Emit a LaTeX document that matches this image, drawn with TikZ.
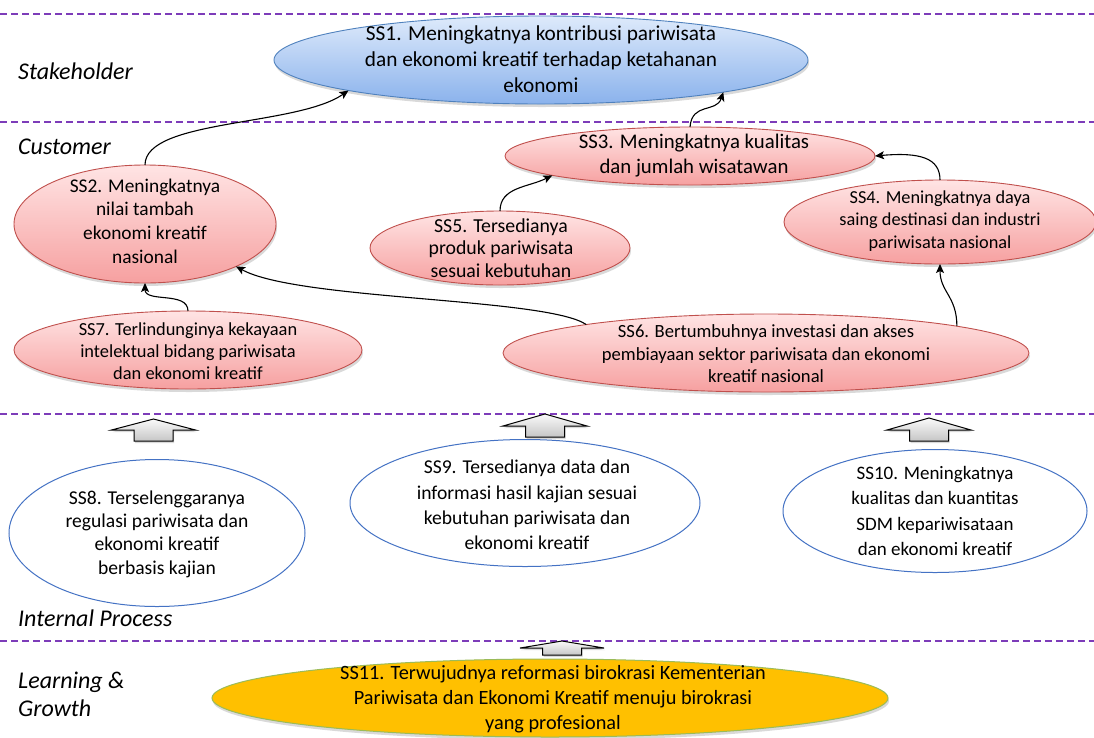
\documentclass[tikz,border=0pt]{standalone}
\usepackage{fontspec}
\setmainfont{Carlito}
\usetikzlibrary{shapes.geometric,arrows.meta,shadows}
\definecolor{sepc}{RGB}{125,60,185}
\definecolor{redT}{RGB}{255,228,228}
\definecolor{redB}{RGB}{246,160,160}
\definecolor{redline}{RGB}{192,80,77}
\definecolor{blueT}{RGB}{222,234,251}
\definecolor{blueB}{RGB}{138,178,236}
\definecolor{blueline}{RGB}{79,129,189}
\definecolor{wline}{RGB}{68,114,196}
\definecolor{gold}{RGB}{255,192,0}
\definecolor{goldline}{RGB}{155,187,89}
\tikzset{
  sepline/.style={draw=sepc, line width=1.2pt, dash pattern=on 7pt off 4pt},
  ell/.style={ellipse, inner sep=0pt, outer sep=0pt},
  shad/.style={drop shadow={shadow xshift=1pt, shadow yshift=-3pt, opacity=0.25, fill=black!60}},
  redell/.style={ell, draw=redline, line width=0.9pt, top color=redT, bottom color=redB, shad},
  blueell/.style={ell, draw=blueline, line width=0.9pt, top color=blueT, bottom color=blueB, shad},
  whiteell/.style={ell, draw=wline, line width=1pt, fill=white},
  goldell/.style={ell, draw=goldline, line width=1pt, fill=gold, shad},
  txt/.style={align=center, inner sep=0pt},
  lbl/.style={anchor=west, align=left, inner sep=0pt, font=\fontsize{24}{28}\selectfont\itshape},
  conn/.style={-{Stealth[length=9pt,width=8pt,inset=2pt]}, line width=1.1pt, black},
  barrow/.style={draw=black, line width=1pt, top color=gray!4, bottom color=gray!45,
    drop shadow={shadow xshift=1pt, shadow yshift=-2pt, opacity=0.25, fill=black!60}}
}
\newcommand{\fs}[2]{\fontsize{#1}{#2}\selectfont}
\newcommand{\uparr}[4]{% cx, tip y, base y, bottom y
  \path[barrow] (#1,#2) -- (#1+42,#3) -- (#1+19.5,#3) -- (#1+19.5,#4) -- (#1-19.5,#4)
    -- (#1-19.5,#3) -- (#1-42,#3) -- cycle;}
\begin{document}
\begin{tikzpicture}[x=1pt,y=-1pt]
\useasboundingbox (0,0) rectangle (1094,737);
% separators
\draw[sepline] (0,14) -- (1094,14);
\draw[sepline] (0,122) -- (1094,122);
\draw[sepline] (0,414) -- (1094,414);
\draw[sepline] (0,641) -- (1094,641);
% perspective labels
\node[lbl] (lstake) at (18,71) {Stakeholder};
\node[lbl] (lcust) at (18,147) {Customer};
\node[lbl] (lint) at (18,618) {Internal Process};
\node[lbl] (llearn) at (18,694) {Learning \&\\Growth};
% ellipses
\node[blueell, minimum width=534pt, minimum height=88pt] (ss1) at (541,60) {};
\node[redell, minimum width=262pt, minimum height=118pt] (ss2) at (145,224) {};
\node[redell, minimum width=370pt, minimum height=58pt] (ss3) at (690,156) {};
\node[redell, minimum width=312pt, minimum height=84pt] (ss4) at (940,222) {};
\node[redell, minimum width=260pt, minimum height=74pt] (ss5) at (500,248) {};
\node[redell, minimum width=526pt, minimum height=78pt] (ss6) at (766,353) {};
\node[redell, minimum width=348pt, minimum height=78pt] (ss7) at (188,350) {};
\node[whiteell, minimum width=296pt, minimum height=147pt] (ss8) at (157,533) {};
\node[whiteell, minimum width=350pt, minimum height=127pt] (ss9) at (525,503) {};
\node[whiteell, minimum width=304pt, minimum height=123pt] (ss10) at (935,511) {};
\node[goldell, minimum width=676pt, minimum height=78pt] (ss11) at (550,698) {};
% texts
\node[txt, font=\fs{21.3}{26}] (t1) at (541,59) {SS1. Meningkatnya kontribusi pariwisata\\dan ekonomi kreatif terhadap ketahanan\\ekonomi};
\node[txt, font=\fs{19.4}{23.7}] (t2) at (145,221) {SS2. Meningkatnya\\nilai tambah\\ekonomi kreatif\\nasional};
\node[txt, font=\fs{20.8}{25}] (t3) at (694,156) {SS3. Meningkatnya kualitas\\dan jumlah wisatawan};
\node[txt, font=\fs{18.3}{22.5}] (t4) at (940,221) {SS4. Meningkatnya daya\\saing destinasi dan industri\\pariwisata nasional};
\node[txt, font=\fs{19.8}{22.8}] (t5) at (501,248) {SS5. Tersedianya\\produk pariwisata\\sesuai kebutuhan};
\node[txt, font=\fs{18.6}{22.5}] (t6) at (766,354) {SS6. Bertumbuhnya investasi dan akses\\pembiayaan sektor pariwisata dan ekonomi\\kreatif nasional};
\node[txt, font=\fs{18.4}{21.8}] (t7) at (188,351) {SS7. Terlindunginya kekayaan\\intelektual bidang pariwisata\\dan ekonomi kreatif};
\node[txt, font=\fs{19.6}{23.4}] (t8) at (157,534) {SS8. Terselenggaranya\\regulasi pariwisata dan\\ekonomi kreatif\\berbasis kajian};
\node[txt, font=\fs{19.6}{25.3}] (t9) at (527,505) {SS9. Tersedianya data dan\\informasi hasil kajian sesuai\\kebutuhan pariwisata dan\\ekonomi kreatif};
\node[txt, font=\fs{19}{25.3}] (t10) at (935,511) {SS10. Meningkatnya\\kualitas dan kuantitas\\SDM kepariwisataan\\dan ekonomi kreatif};
\node[txt, font=\fs{20.3}{25}] (t11) at (553,699) {SS11. Terwujudnya reformasi birokrasi Kementerian\\Pariwisata dan Ekonomi Kreatif menuju birokrasi\\yang profesional};
% connectors
\draw[conn] (ss2.north) .. controls +(0,-46) and +(-52,36) .. (ss1.189.36);
\draw[conn] (ss3.north) .. controls +(2,-25) and +(-7,21) .. (ss1.350.64);
\draw[conn] (ss5.north) .. controls +(0,-24) and +(-24,12) .. (ss3.188.9);
\draw[conn] (ss4.north) .. controls +(0,-22) and +(45,-4) .. (ss3.east);
\draw[conn] (ss6.8.4) .. controls +(0,-30) and +(0,28) .. (ss4.south);
\draw[conn] (ss6.171.6) .. controls +(-40,-27) and +(62,34) .. (ss2.335.8);
\draw[conn] (ss7.north) .. controls +(0,-20) and +(0,20) .. (ss2.south);
% block arrows
\uparr{153.5}{419}{430}{441}
\uparr{545}{414}{426}{437}
\uparr{929}{418}{430}{441}
\uparr{562}{641}{648}{655}
\end{tikzpicture}
\end{document}
